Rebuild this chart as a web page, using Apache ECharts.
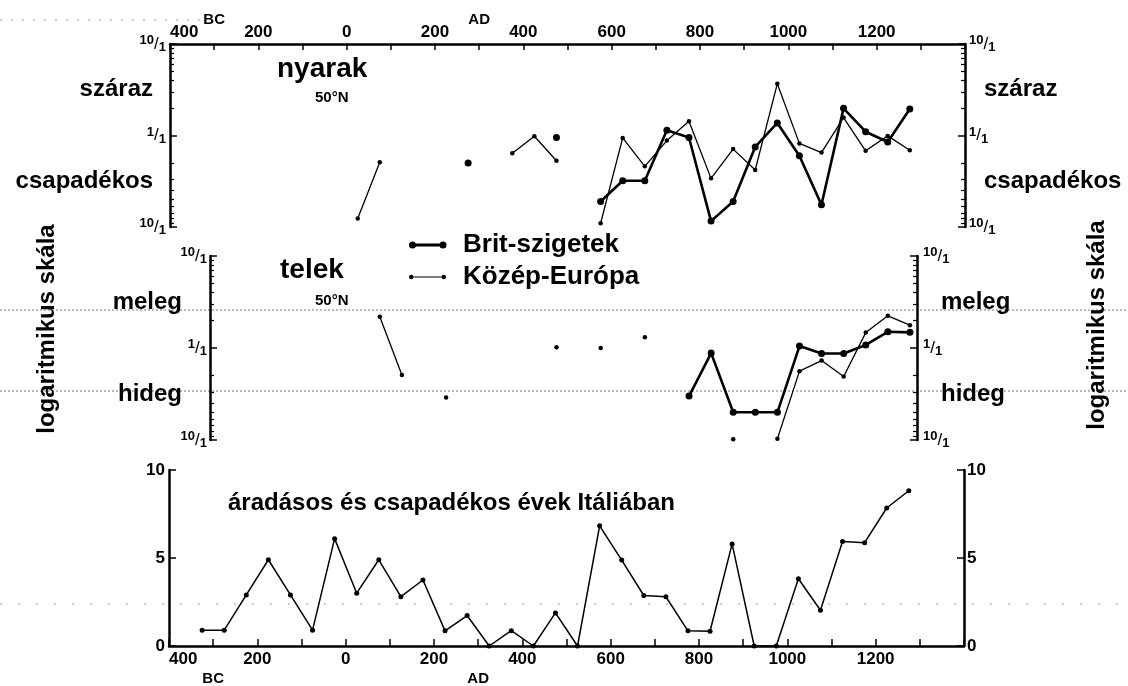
<!DOCTYPE html>
<html>
<head>
<meta charset="utf-8">
<title>nyarak, telek, áradások</title>
<script src="https://cdn.jsdelivr.net/npm/echarts/dist/echarts.min.js"></script>
<style>
html, body { margin: 0; padding: 0; background: #fff; }
#chart { width: 1128px; height: 686px; }
</style>
</head>
<body>
<div id="chart"></div>
<script>
// félévszázadok középpontjai (negatív = i. e.)
var years = [-325, -275, -225, -175, -125, -75, -25, 25, 75, 125, 175, 225, 275, 325, 375, 425, 475,
  525, 575, 625, 675, 725, 775, 825, 875, 925, 975, 1025, 1075, 1125, 1175, 1225, 1275];

// nyarak: száraz / csapadékos arány
var summerBrit = [null, null, null, null, null, null, null, null, null, null, null, null, 0.50,
  null, null, null, 0.95, null,
  0.19, 0.32, 0.32, 1.14, 0.95, 0.116, 0.19, 0.75, 1.37, 0.60, 0.175, 1.98, 1.10, 0.85, 1.95];
var summerCentral = [null, null, null, null, null, null, null, 0.124, 0.51, null, null, null, null, null,
  0.64, 0.98, 0.53, null,
  0.11, 0.94, 0.46, 0.88, 1.43, 0.34, 0.71, 0.42, 3.67, 0.82, 0.65, 1.57, 0.68, 0.99, 0.69];

// telek: meleg / hideg arány
var winterBrit = [null, null, null, null, null, null, null, null, null, null, null, null, null, null,
  null, null, null, null, null, null, null, null,
  0.30, 0.88, 0.20, 0.20, 0.20, 1.05, 0.87, 0.87, 1.08, 1.50, 1.48];
var winterCentral = [null, null, null, null, null, null, null, null, 2.19, 0.51, null, 0.29,
  null, null, null, null, 1.02, null, 1.0, null, 1.31, null, null, null,
  0.102, null, 0.103, 0.56, 0.73, 0.49, 1.47, 2.24, 1.77];

// áradásos és csapadékos évek Itáliában
var italy = [0.9, 0.9, 2.9, 4.9, 2.9, 0.9, 6.1, 3.0, 4.9, 2.8, 3.75, 0.86, 1.73, 0, 0.87, 0, 1.88,
  0, 6.83, 4.88, 2.87, 2.8, 0.86, 0.84, 5.8, 0, 0, 3.82, 2.03, 5.94, 5.87, 7.84, 8.82];

var yearLabels = [-400, -300, -200, 0, 200, 300, 400, 600, 800, 1000, 1200];
var ratioMajor = [0.1, 1, 10];
var ratioMinor = [0.1111, 0.125, 0.1429, 0.1667, 0.2, 0.25, 0.3333, 0.5, 2, 3, 4, 5, 6, 7, 8, 9];
var wordPos = [0.3162, 3.1623];
var summerWords = ['csapadékos', 'száraz'];
var winterWords = ['hideg', 'meleg'];
var legendNames = ['Brit-szigetek', 'Közép-Európa'];

var FONT = '"Liberation Sans", Arial, Helvetica, sans-serif';

// jelmagyarázat ikonok: vonal pöttyökkel a két végén
var iconThick = 'path://M0,0 M49,14 M6.5,5.6 L31,5.6 L31,8.4 L6.5,8.4 Z ' +
  'M0,7 A3.5,3.5 0 1 1 7,7 A3.5,3.5 0 1 1 0,7 Z M30.5,7 A3.5,3.5 0 1 1 37.5,7 A3.5,3.5 0 1 1 30.5,7 Z';
var iconThin = 'path://M0,0 M49,14 M4,6.4 L33,6.4 L33,7.6 L4,7.6 Z ' +
  'M0,7 A2.2,2.2 0 1 1 4.4,7 A2.2,2.2 0 1 1 0,7 Z M32.6,7 A2.2,2.2 0 1 1 37,7 A2.2,2.2 0 1 1 32.6,7 Z';

function pairs(vals) {
  return years.map(function (y, i) { return [y, vals[i]]; });
}

var fracRich = {
  n: { fontSize: 13, fontWeight: 'bold', fontFamily: FONT, color: '#000', verticalAlign: 'top', lineHeight: 20 },
  s: { fontSize: 17, fontFamily: FONT, color: '#000', lineHeight: 20 },
  d: { fontSize: 13, fontWeight: 'bold', fontFamily: FONT, color: '#000', verticalAlign: 'bottom', lineHeight: 20 }
};
function fracLabel(v) {
  return Math.abs(v - 1) < 0.01 ? '{n|1}{s|/}{d|1}' : '{n|10}{s|/}{d|1}';
}

// tengelypár egy log panel egy oldalára: fő tengely + kis osztások/szavak
function ratioAxes(grid, side, words, fracMargin, wordMargin) {
  return [
    {
      gridIndex: grid, type: 'log', logBase: 10, min: 0.1, max: 10, position: side,
      axisLine: { onZero: false, lineStyle: { color: '#000', width: 2.5 } },
      axisTick: { inside: true, length: 7, customValues: ratioMajor, lineStyle: { color: '#000', width: 1.5 } },
      axisLabel: { customValues: ratioMajor, formatter: fracLabel, rich: fracRich, margin: fracMargin },
      splitLine: { show: false }
    },
    {
      gridIndex: grid, type: 'log', logBase: 10, min: 0.1, max: 10, position: side,
      axisLine: { show: false, onZero: false },
      axisTick: { inside: true, length: 4, customValues: ratioMinor, lineStyle: { color: '#000', width: 1.2 } },
      axisLabel: {
        customValues: wordPos, margin: wordMargin,
        formatter: function (v) { return v < 1 ? words[0] : words[1]; },
        fontSize: 24, fontWeight: 'bold', fontFamily: FONT, color: '#000'
      },
      splitLine: { show: false }
    }
  ];
}

function yearAxisLabel(margin, eraPad) {
  return {
    customValues: yearLabels, margin: margin, alignMinLabel: 'left',
    fontSize: 17, fontWeight: 'bold', fontFamily: FONT, color: '#000',
    formatter: function (v) {
      if (v === -300) return '{era|BC}';
      if (v === 300) return '{era|AD}';
      return String(Math.abs(v));
    },
    rich: { era: { fontSize: 15, fontWeight: 'bold', fontFamily: FONT, color: '#000', padding: eraPad } }
  };
}

function lineSeries(name, xi, yi, vals, thick) {
  return {
    name: name, type: 'line', xAxisIndex: xi, yAxisIndex: yi, data: pairs(vals),
    symbol: 'circle', symbolSize: thick ? 7 : 4.5, showSymbol: true, connectNulls: false,
    lineStyle: { color: '#000', width: thick ? 2.6 : 1.3 },
    itemStyle: { color: '#000' }
  };
}

var chart = echarts.init(document.getElementById('chart'));

var option = {
  animation: false,
  backgroundColor: '#fff',
  textStyle: { fontFamily: FONT },
  title: [
    { text: 'nyarak', left: 277, top: 55, padding: 0, textStyle: { fontSize: 28, fontWeight: 'bold', fontFamily: FONT, color: '#000' } },
    { text: '50°N', left: 315, top: 90, padding: 0, textStyle: { fontSize: 15, fontWeight: 'bold', fontFamily: FONT, color: '#000' } },
    { text: 'telek', left: 280, top: 256, padding: 0, textStyle: { fontSize: 28, fontWeight: 'bold', fontFamily: FONT, color: '#000' } },
    { text: '50°N', left: 315, top: 293, padding: 0, textStyle: { fontSize: 15, fontWeight: 'bold', fontFamily: FONT, color: '#000' } },
    { text: 'áradásos és csapadékos évek Itáliában', left: 228, top: 491, padding: 0,
      textStyle: { fontSize: 24, fontWeight: 'bold', fontFamily: FONT, color: '#000' } }
  ],
  legend: {
    data: [
      { name: legendNames[0], icon: iconThick },
      { name: legendNames[1], icon: iconThin }
    ],
    orient: 'vertical', left: 409, top: 232, padding: 0,
    itemWidth: 49, itemHeight: 14, itemGap: 6,
    itemStyle: { color: '#000' },
    textStyle: { fontSize: 26, fontWeight: 'bold', fontFamily: FONT, color: '#000' }
  },
  grid: [
    { left: 170, right: 163, top: 44, height: 183 },
    { left: 210, right: 211, top: 256, height: 184 },
    { left: 169, right: 164, top: 470, height: 181 }
  ],
  xAxis: [
    {
      gridIndex: 0, type: 'value', position: 'top', min: -400, max: 1400, interval: 100,
      axisLine: { onZero: false, lineStyle: { color: '#000', width: 2.5 } },
      axisTick: { inside: true, length: 6, lineStyle: { color: '#000', width: 1.5 } },
      axisLabel: yearAxisLabel(3, [0, 0, 14, 0]),
      splitLine: { show: false }
    },
    { gridIndex: 1, type: 'value', min: -309.4, max: 1291, show: false },
    {
      gridIndex: 2, type: 'value', position: 'bottom', min: -400, max: 1400, interval: 100,
      axisLine: { onZero: false, lineStyle: { color: '#000', width: 2.5 } },
      axisTick: { inside: true, length: 7, lineStyle: { color: '#000', width: 1.5 } },
      axisLabel: yearAxisLabel(5, [20, 0, 0, 0]),
      splitLine: { show: false }
    }
  ],
  yAxis: [].concat(
    ratioAxes(0, 'left', summerWords, 4, 17),
    ratioAxes(0, 'right', summerWords, 4, 19),
    ratioAxes(1, 'left', winterWords, 3, 28),
    ratioAxes(1, 'right', winterWords, 6, 24),
    [
      {
        gridIndex: 2, type: 'value', position: 'left', min: 0, max: 10, interval: 5,
        axisLine: { onZero: false, lineStyle: { color: '#000', width: 2.5 } },
        axisTick: { inside: true, length: 7, lineStyle: { color: '#000', width: 1.5 } },
        axisLabel: { fontSize: 17, fontWeight: 'bold', fontFamily: FONT, color: '#000', margin: 4 },
        splitLine: { show: false }
      },
      {
        gridIndex: 2, type: 'value', position: 'right', min: 0, max: 10, interval: 5,
        axisLine: { onZero: false, lineStyle: { color: '#000', width: 2.5 } },
        axisTick: { inside: true, length: 7, lineStyle: { color: '#000', width: 1.5 } },
        axisLabel: { fontSize: 17, fontWeight: 'bold', fontFamily: FONT, color: '#000', margin: 3 },
        splitLine: { show: false }
      }
    ]
  ),
  graphic: [
    { type: 'line', z: 0, shape: { x1: 0, y1: 310, x2: 1128, y2: 310 }, style: { stroke: '#777', lineWidth: 1, lineDash: [2, 2] } },
    { type: 'line', z: 0, shape: { x1: 0, y1: 391, x2: 1128, y2: 391 }, style: { stroke: '#777', lineWidth: 1, lineDash: [2, 2] } },
    { type: 'line', z: 0, shape: { x1: 0, y1: 604, x2: 1128, y2: 604 }, style: { stroke: '#999', lineWidth: 1, lineDash: [2, 16] } },
    { type: 'line', z: 0, shape: { x1: 0, y1: 20, x2: 200, y2: 20 }, style: { stroke: '#999', lineWidth: 1, lineDash: [2, 9] } },
    { type: 'text', x: 47, y: 329, rotation: Math.PI / 2,
      style: { text: 'logaritmikus skála', fontSize: 24, fontWeight: 'bold', fontFamily: FONT, fill: '#000', align: 'center', verticalAlign: 'middle' } },
    { type: 'text', x: 1097, y: 325, rotation: Math.PI / 2,
      style: { text: 'logaritmikus skála', fontSize: 24, fontWeight: 'bold', fontFamily: FONT, fill: '#000', align: 'center', verticalAlign: 'middle' } }
  ],
  series: [
    lineSeries(legendNames[0], 0, 0, summerBrit, true),
    lineSeries(legendNames[1], 0, 0, summerCentral, false),
    lineSeries(legendNames[0], 1, 4, winterBrit, true),
    lineSeries(legendNames[1], 1, 4, winterCentral, false),
    {
      name: 'Itália', type: 'line', xAxisIndex: 2, yAxisIndex: 8, data: pairs(italy),
      symbol: 'circle', symbolSize: 5, showSymbol: true,
      lineStyle: { color: '#000', width: 1.5 }, itemStyle: { color: '#000' }
    }
  ]
};

chart.setOption(option);
</script>
</body>
</html>
